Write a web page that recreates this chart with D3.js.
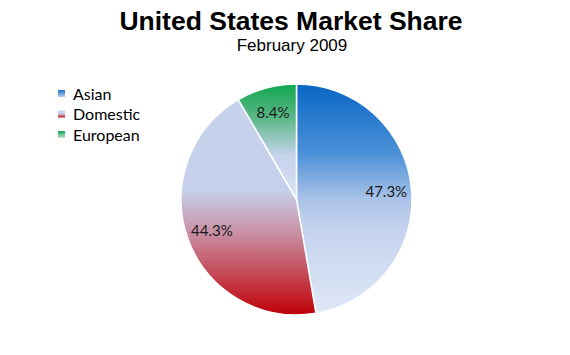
<!DOCTYPE html>
<html>
<head>
<meta charset="utf-8">
<script src="https://cdn.jsdelivr.net/npm/d3@7"></script>
<style>
  html, body { margin: 0; padding: 0; background: #fff; }
  svg { display: block; }
</style>
</head>
<body>
<svg id="chart" width="570" height="355"></svg>
<script>
const categories = ["Asian", "Domestic", "European"];
const shares = [47.3, 44.3, 8.4];
const labels = ["47.3%", "44.3%", "8.4%"];
const title = "United States Market Share";
const subtitle = "February 2009";

// gradient stops per series (vertical, over slice bounding box)
const sliceGradients = [
  [[0, "#0866c4"], [0.3, "#4b90d8"], [0.5, "#a9c2e8"], [0.62, "#c3d2ee"], [1, "#e0e8f6"]],
  [[0, "#c6d2ec"], [0.42, "#c6d0ea"], [0.62, "#c98fa3"], [1, "#c00008"]],
  [[0, "#10a64e"], [0.3, "#5db889"], [0.62, "#c6d3ec"], [1, "#d9e2f4"]]
];
const legendGradients = [
  [[0, "#1f6fc6"], [1, "#b6cdee"]],
  [[0, "#c6d2ec"], [0.45, "#c6d0ea"], [1, "#c4101a"]],
  [[0, "#12a553"], [1, "#bfe0cc"]]
];

const svg = d3.select("#chart");
const defs = svg.append("defs");

function addGrad(id, stops) {
  const g = defs.append("linearGradient").attr("id", id)
    .attr("x1", 0).attr("y1", 0).attr("x2", 0).attr("y2", 1);
  g.selectAll("stop").data(stops).join("stop")
    .attr("offset", d => d[0]).attr("stop-color", d => d[1]);
}
sliceGradients.forEach((s, i) => addGrad("sg" + i, s));
legendGradients.forEach((s, i) => addGrad("lg" + i, s));

// Title
svg.append("text").attr("x", 291).attr("y", 30)
  .attr("text-anchor", "middle")
  .style("font-family", "Liberation Sans, Arial, sans-serif")
  .style("font-weight", "bold").style("font-size", "26.5px")
  .attr("fill", "#000").text(title);
svg.append("text").attr("x", 292).attr("y", 51)
  .attr("text-anchor", "middle")
  .style("font-family", "Liberation Sans, Arial, sans-serif")
  .style("font-size", "17px")
  .attr("fill", "#000").text(subtitle);

// Pie
const cx = 296.5, cy = 199.5, r = 115.5;
const pie = d3.pie().sort(null).value(d => d);
const arcs = pie(shares);
const arc = d3.arc().innerRadius(0).outerRadius(r);
const labelArc = d3.arc().innerRadius(r * 0.78).outerRadius(r * 0.78);

const g = svg.append("g").attr("transform", `translate(${cx},${cy})`);
g.selectAll("path.slice").data(arcs).join("path")
  .attr("class", "slice")
  .attr("d", arc)
  .attr("fill", (d, i) => `url(#sg${i})`)
  .attr("stroke", "#fff")
  .attr("stroke-width", 1.5)
  .attr("stroke-linejoin", "round");

g.selectAll("text.lbl").data(arcs).join("text")
  .attr("class", "lbl")
  .attr("transform", d => `translate(${labelArc.centroid(d)})`)
  .attr("text-anchor", "middle")
  .attr("dy", "0.35em")
  .style("font-family", "Lato, 'Open Sans', sans-serif")
  .style("font-size", "15px")
  .attr("fill", "#1a1a1a")
  .text((d, i) => labels[i]);

// Legend
const legend = svg.append("g").attr("transform", "translate(58,90)");
const items = legend.selectAll("g").data(categories).join("g")
  .attr("transform", (d, i) => `translate(0,${i * 20.5})`);
items.append("rect").attr("width", 7).attr("height", 7)
  .attr("fill", (d, i) => `url(#lg${i})`);
items.append("text").attr("x", 15).attr("y", 3.5).attr("dy", "0.38em")
  .style("font-family", "Lato, 'Open Sans', sans-serif")
  .style("font-size", "16px")
  .attr("fill", "#000")
  .text(d => d);
</script>
</body>
</html>
